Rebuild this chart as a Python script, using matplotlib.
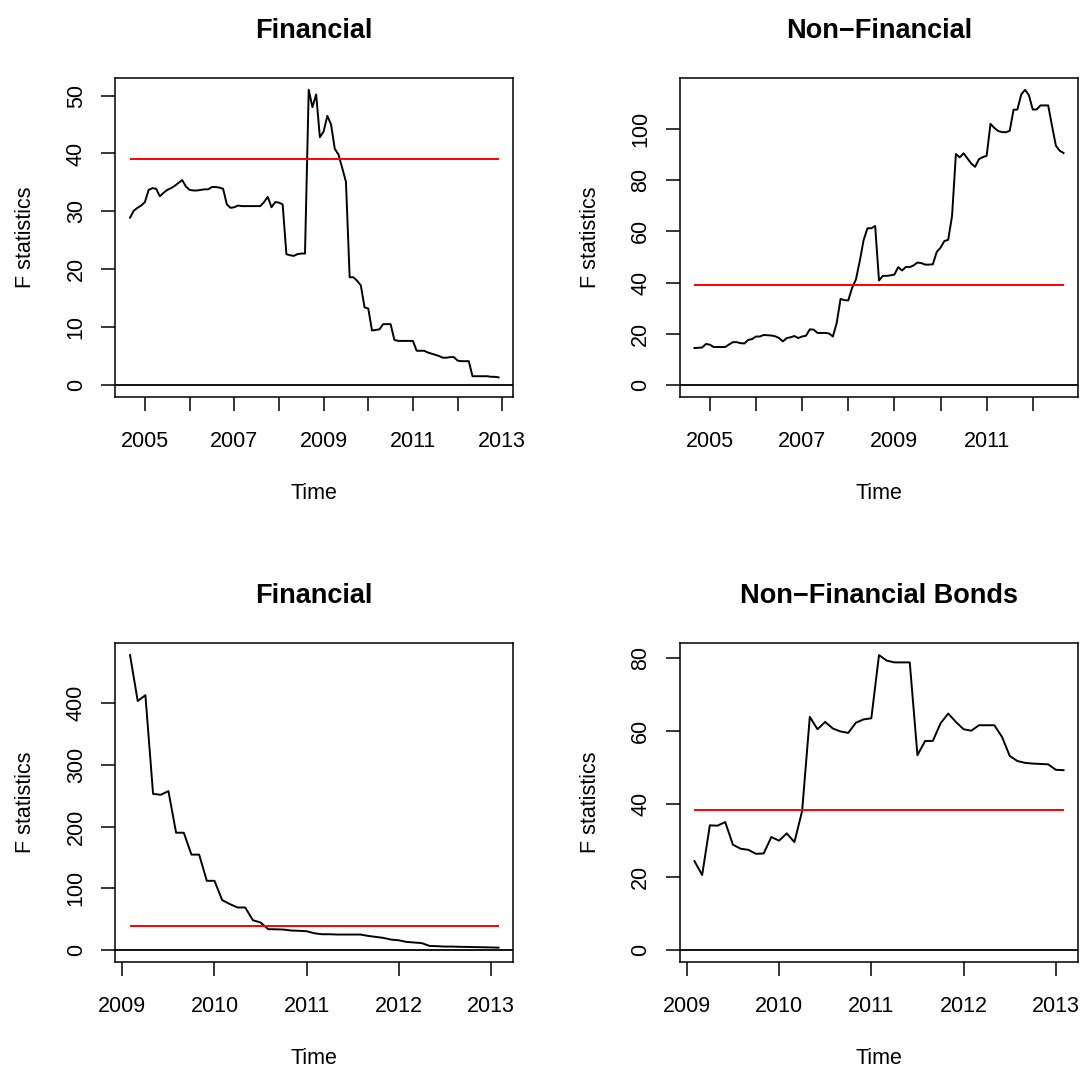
import numpy as np
import matplotlib
matplotlib.use("Agg")
from matplotlib import pyplot as plt

plt.rcParams['font.family'] = ['Liberation Sans', 'DejaVu Sans']

# monthly F statistics, Sep 2004 - Dec 2012
fin_start = 2004 + 8 / 12
fin_vals = [28.9, 30.1, 30.6, 31.0, 31.6, 33.7, 34.0, 33.9, 32.6, 33.2,
            33.7, 34.0, 34.4, 34.9, 35.4, 34.3, 33.7, 33.6, 33.6, 33.7,
            33.8, 33.8, 34.2, 34.2, 34.1, 33.9, 31.2, 30.6, 30.7, 31.0,
            30.9, 30.9, 30.9, 30.9, 30.9, 30.9, 31.6, 32.5, 30.7, 31.6,
            31.5, 31.2, 22.6, 22.4, 22.3, 22.6, 22.7, 22.7, 51.0, 48.0,
            50.2, 42.8, 43.8, 46.5, 45.0, 40.8, 39.8, 37.5, 35.1, 18.6,
            18.6, 18.0, 17.2, 13.4, 13.2, 9.4, 9.5, 9.6, 10.5, 10.5,
            10.5, 7.8, 7.6, 7.6, 7.6, 7.6, 7.6, 5.9, 5.9, 5.9,
            5.6, 5.4, 5.2, 5.0, 4.7, 4.7, 4.8, 4.8, 4.2, 4.1,
            4.1, 4.1, 1.5, 1.5, 1.5, 1.5, 1.5, 1.4, 1.4, 1.3]

# monthly, Sep 2004 - Sep 2012
nonfin_start = 2004 + 8 / 12
nonfin_vals = [14.4, 14.5, 14.6, 16.0, 15.7, 14.8, 14.8, 14.8, 14.8, 15.8,
               16.7, 16.7, 16.3, 16.2, 17.6, 17.9, 18.9, 18.9, 19.5, 19.4,
               19.3, 19.0, 18.3, 17.0, 18.3, 18.6, 19.1, 18.3, 18.9, 19.2,
               21.7, 21.6, 20.3, 20.3, 20.3, 20.1, 18.9, 24.2, 33.6, 33.1,
               33.0, 37.9, 41.2, 48.4, 56.6, 61.2, 61.2, 62.1, 40.8, 42.6,
               42.6, 42.8, 43.1, 46.0, 44.7, 46.1, 46.0, 46.7, 47.8, 47.6,
               47.0, 47.0, 47.1, 51.9, 53.6, 56.2, 56.7, 66.0, 90.2, 88.9,
               90.5, 88.5, 86.5, 85.2, 88.2, 89.0, 89.5, 102.0, 100.4, 99.2,
               98.8, 98.7, 99.3, 107.5, 107.6, 113.5, 115.3, 113.1, 107.6, 107.6,
               109.2, 109.2, 109.2, 101.3, 93.5, 91.5, 90.6]

# monthly, Feb 2009 - Feb 2013
fin2_start = 2009 + 1 / 12
fin2_vals = [478, 403.6, 413, 253, 251.5, 257.4, 190, 190, 154.5, 154.5,
             112, 112, 80.8, 74.3, 68.8, 68.8, 48.2, 44.4, 33.6, 33.4,
             33.0, 31.4, 31.0, 30.3, 27.0, 25.4, 25.4, 24.9, 24.9, 24.9,
             24.9, 22.7, 21.1, 19.5, 16.7, 15.6, 13.0, 12.0, 11.0, 6.5,
             6.0, 5.4, 5.4, 5.0, 4.8, 4.5, 4.3, 4.0, 3.7]

bonds_start = 2009 + 1 / 12
bonds_vals = [24.3, 20.5, 34.1, 34.0, 35.0, 28.8, 27.7, 27.4, 26.3, 26.4,
              30.9, 29.9, 31.9, 29.5, 38.0, 63.8, 60.4, 62.4, 60.6, 59.8,
              59.4, 62.2, 63.1, 63.4, 80.7, 79.2, 78.7, 78.7, 78.7, 53.3,
              57.2, 57.2, 62.0, 64.7, 62.4, 60.4, 60.0, 61.5, 61.5, 61.5,
              58.3, 53.1, 51.7, 51.2, 51.0, 50.9, 50.8, 49.3, 49.2]

titles = ["Financial", "Non\u2212Financial", "Financial", "Non\u2212Financial Bonds"]
starts = [fin_start, nonfin_start, fin2_start, bonds_start]
series = [fin_vals, nonfin_vals, fin2_vals, bonds_vals]
crit = [39.0, 39.0, 38.2, 38.2]
yticks = [range(0, 51, 10), range(0, 101, 20), range(0, 401, 100), range(0, 81, 20)]
xticks = [range(2005, 2014), range(2005, 2013), range(2009, 2014), range(2009, 2014)]
xlabels = [["2005", "", "2007", "", "2009", "", "2011", "", "2013"],
           ["2005", "", "2007", "", "2009", "", "2011", ""],
           ["2009", "2010", "2011", "2012", "2013"],
           ["2009", "2010", "2011", "2012", "2013"]]

W, H = 1084, 1068
fig = plt.figure(figsize=(W / 100, H / 100), dpi=100)

# panel frames in pixels: left, top, right, bottom
frames = [(115.3, 78, 513.3, 396.7), (679.7, 78, 1078.3, 396.7),
          (115.3, 643.3, 513.3, 961.7), (679.7, 643.3, 1078.3, 961.7)]

for k in range(4):
    l, t, r, b = frames[k]
    ax = fig.add_axes([l / W, 1 - b / H, (r - l) / W, (b - t) / H])
    y = np.array(series[k])
    x = starts[k] + np.arange(len(y)) / 12

    ax.plot(x, y, color="black", lw=1.4)
    ax.hlines(crit[k], x[0], x[-1], color="red", lw=1.4)
    ax.axhline(0, color="black", lw=1.3)

    # R style 4% padding
    dx = 0.04 * (x[-1] - x[0])
    ax.set_xlim(x[0] - dx, x[-1] + dx)
    dy = 0.04 * y.max()
    ax.set_ylim(-dy, y.max() + dy)

    ax.set_xticks(list(xticks[k]))
    ax.set_xticklabels(xlabels[k])
    ax.set_yticks(list(yticks[k]))
    ax.set_yticklabels([str(v) for v in yticks[k]], rotation=90, va="center")

    ax.tick_params(axis="both", direction="out", length=10, width=1.1,
                   labelsize=15.5, colors="black")
    ax.tick_params(axis="x", pad=15)
    ax.tick_params(axis="y", pad=10.5)
    for s in ax.spines.values():
        s.set_linewidth(1.1)

    ax.set_xlabel("Time", fontsize=15.5, va="top")
    ax.xaxis.set_label_coords(0.5, -0.271)
    ax.set_ylabel("F statistics", fontsize=15.5)
    ax.yaxis.set_label_coords(-0.198, 0.5)
    ax.set_title(titles[k], fontsize=19.5, fontweight="bold", y=1.127, pad=0)

fig.savefig("out.png", dpi=100)
